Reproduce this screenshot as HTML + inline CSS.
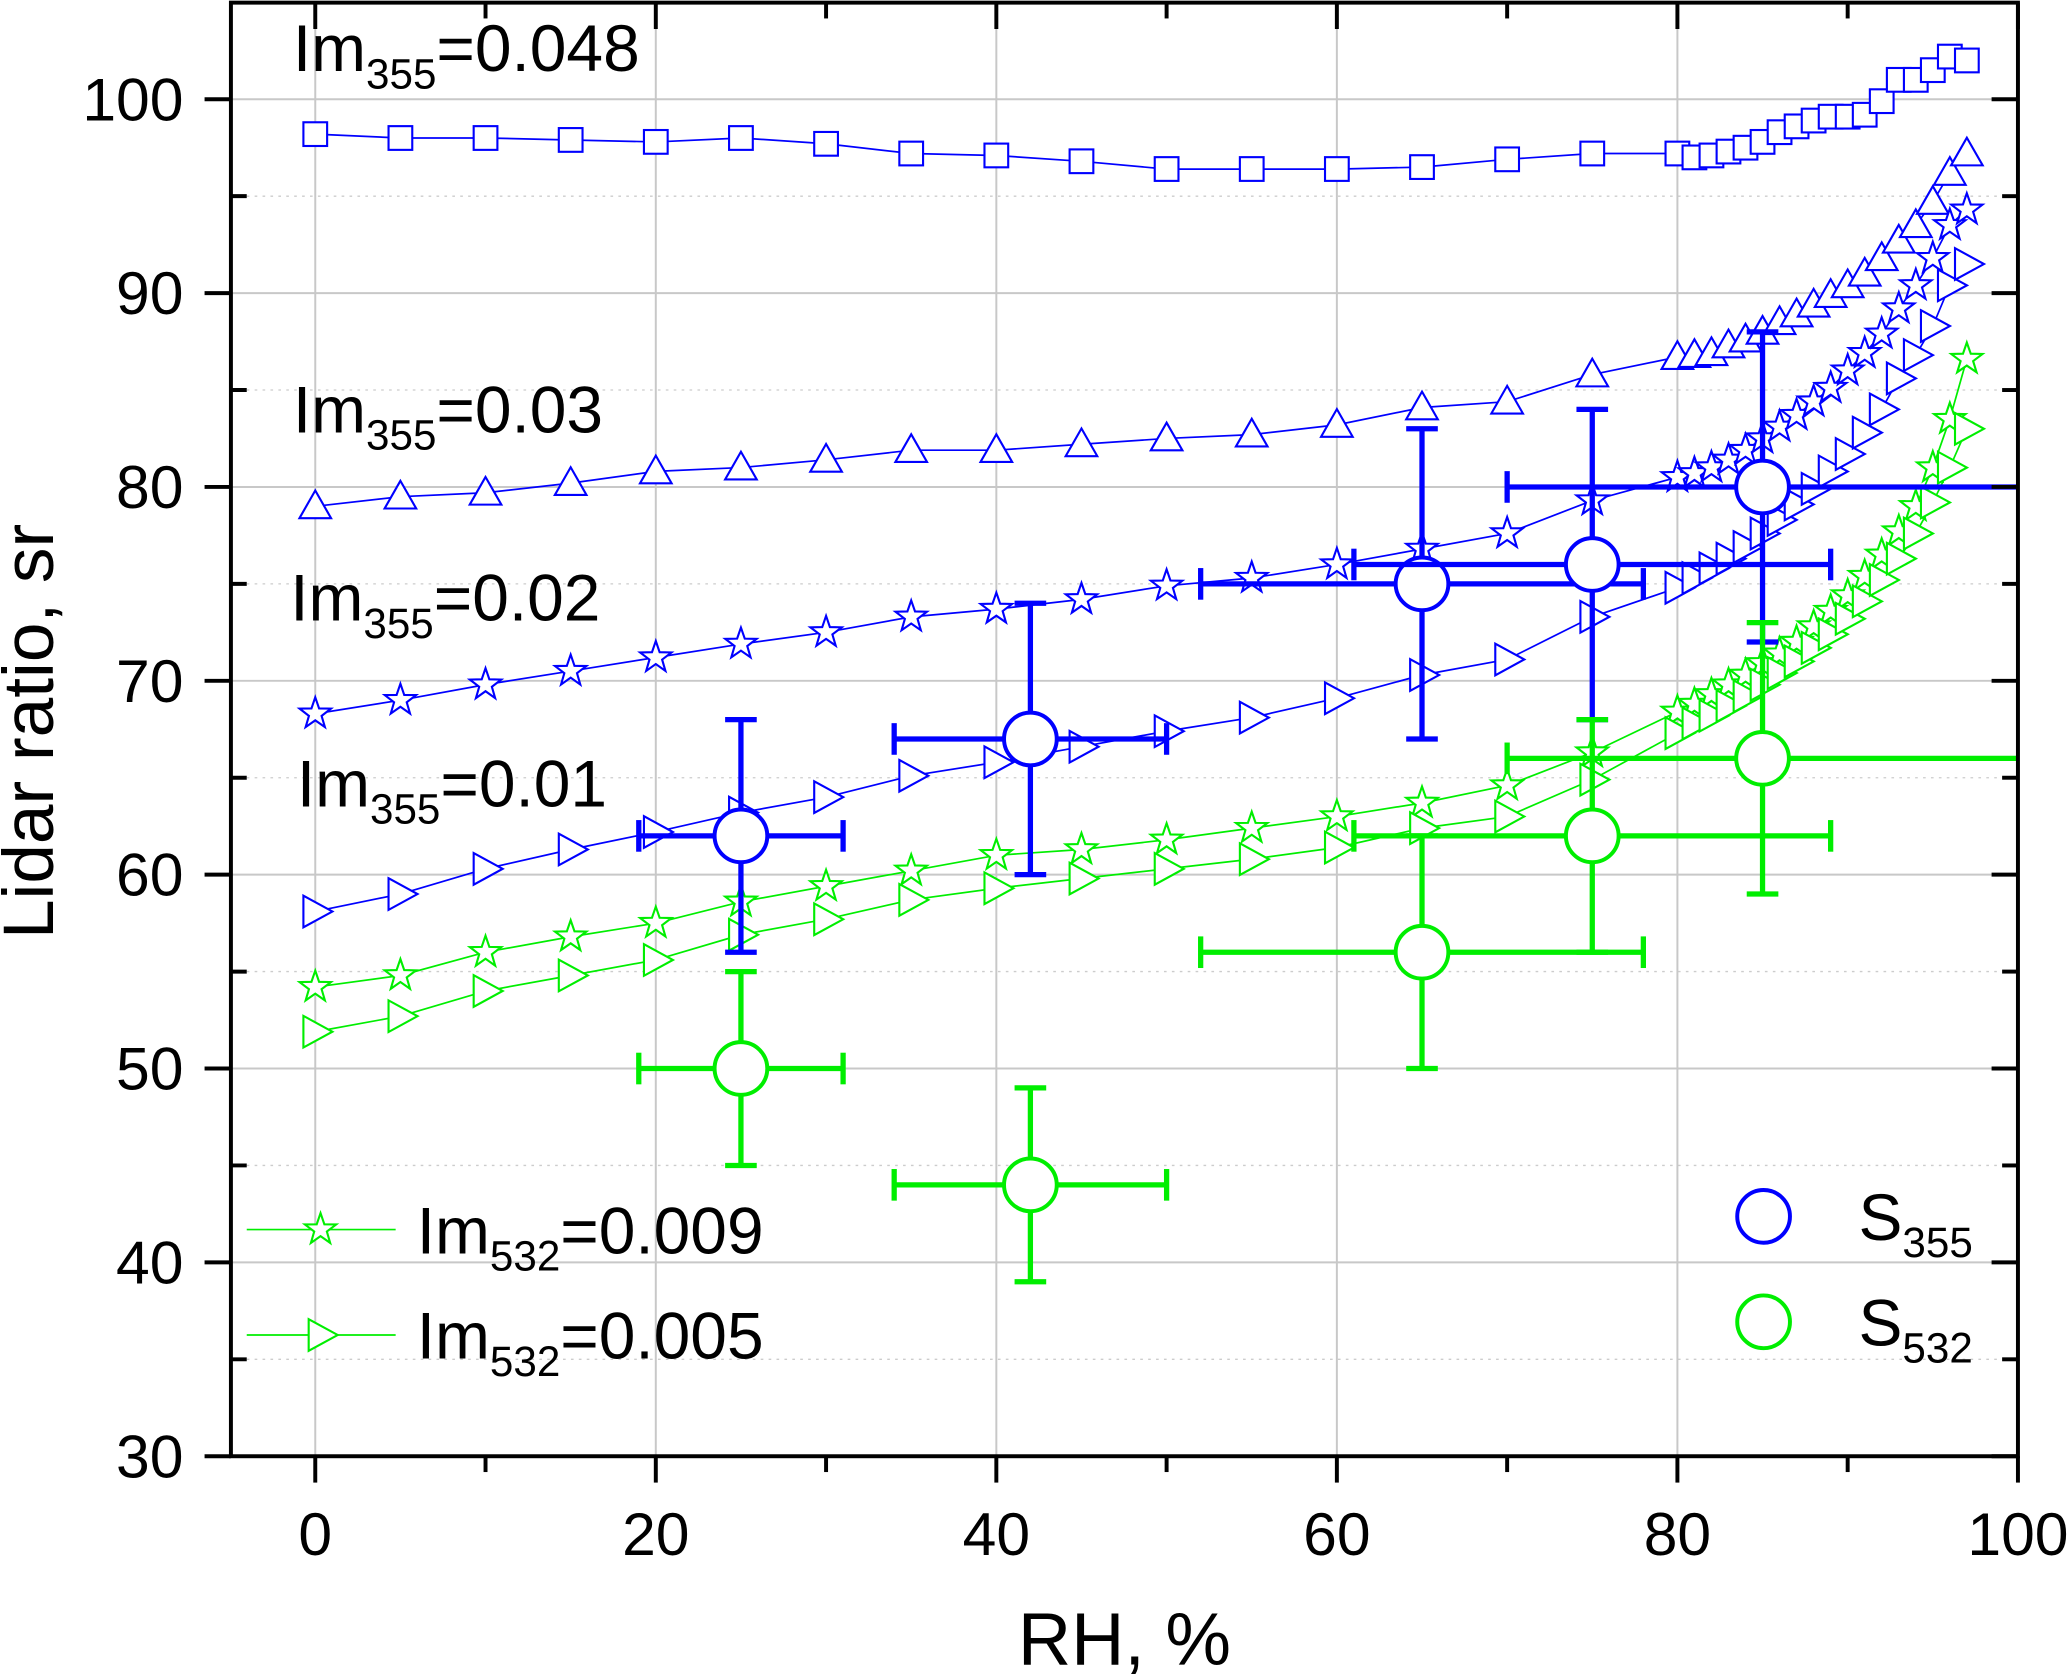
<!DOCTYPE html>
<html><head><meta charset="utf-8"><style>
html,body{margin:0;padding:0;background:#fff;}
svg{display:block;font-family:"Liberation Sans",Arial,sans-serif;}
</style></head><body>
<svg id="chart" width="2067" height="1675" viewBox="0 0 1568 1271" xmlns="http://www.w3.org/2000/svg">
<g id="grid"></g>
<g id="series"></g>
<g id="errs"></g>
<g id="axes"></g>
<g id="labels">
<text x="222" y="54" font-size="50">Im<tspan font-size="32" dy="13">355</tspan><tspan dy="-13">=0.048</tspan></text>
<text x="222" y="328" font-size="50">Im<tspan font-size="32" dy="13">355</tspan><tspan dy="-13">=0.03</tspan></text>
<text x="220" y="471" font-size="50">Im<tspan font-size="32" dy="13">355</tspan><tspan dy="-13">=0.02</tspan></text>
<text x="225" y="612" font-size="50">Im<tspan font-size="32" dy="13">355</tspan><tspan dy="-13">=0.01</tspan></text>
<text transform="translate(40,555) rotate(-90)" text-anchor="middle" font-size="54">Lidar ratio, sr</text>
<text x="853" y="1263" text-anchor="middle" font-size="56">RH, %</text>
</g>
<g id="legend"></g>
</svg>
<script>
const xs = [0,5,10,15,20,25,30,35,40,45,50,55,60,65,70,75,80,81,82,83,84,85,86,87,88,89,90,91,92,93,94,95,96,97];
const sq355 = [98.2,98.0,98.0,97.9,97.8,98.0,97.7,97.2,97.1,96.8,96.4,96.4,96.4,96.5,96.9,97.2,97.2,97.0,97.1,97.3,97.5,97.8,98.3,98.6,98.9,99.1,99.1,99.2,99.9,101.0,101.0,101.5,102.2,102.0];
const tri355 = [79,79.5,79.7,80.2,80.8,81.0,81.4,81.9,81.9,82.2,82.5,82.7,83.2,84.1,84.4,85.8,86.7,86.8,86.9,87.3,87.6,88.0,88.5,88.9,89.4,89.9,90.4,91.0,91.8,92.7,93.5,94.7,96.2,97.2];
const star355 = [68.3,69.0,69.8,70.5,71.2,71.9,72.5,73.3,73.7,74.2,74.9,75.3,76.0,76.8,77.6,79.3,80.5,80.7,81.0,81.4,81.9,82.5,83.1,83.7,84.4,85.1,86.0,86.9,87.9,89.2,90.4,91.8,93.5,94.3];
const rt355 = [58.1,59.0,60.3,61.3,62.2,63.2,64.0,65.1,65.8,66.6,67.4,68.1,69.1,70.3,71.1,73.3,74.8,75.3,75.8,76.3,76.9,77.6,78.3,79.1,79.9,80.8,81.7,82.8,84.0,85.6,86.8,88.3,90.4,91.5];
const star532 = [54.2,54.8,56.0,56.8,57.5,58.6,59.4,60.2,61.0,61.3,61.8,62.4,63.0,63.7,64.6,66.3,68.4,68.8,69.3,69.8,70.3,70.9,71.4,72.0,72.8,73.6,74.4,75.4,76.5,77.7,79.0,81.0,83.5,86.6];
const rt532 = [51.9,52.7,54.0,54.8,55.6,56.9,57.7,58.7,59.3,59.8,60.3,60.8,61.4,62.4,63.0,64.9,67.3,67.8,68.2,68.7,69.2,69.8,70.4,71.0,71.7,72.4,73.2,74.1,75.2,76.3,77.6,79.2,81.0,83.0];
const mRH = [25,42,65,75,85];
const mRHlo = [19,34,52,61,70];
const mRHhi = [31,50,78,89,100];
const s355 = [62,67,75,76,80];
const s355lo = [56,60,67,68,72];
const s355hi = [68,74,83,84,88];
const s532 = [50,44,56,62,66];
const s532lo = [45,39,50,56,59];
const s532hi = [55,49,62,68,73];
const xTicks = [0,20,40,60,80,100];
const yTicks = [30,40,50,60,70,80,90,100];

const NS = "http://www.w3.org/2000/svg";
const X = v => 239 + (v - 0) * 12.92;
const Y = v => 1105 - (v - 30) * 14.71;
const L = 175, R = 1531, T = 2, B = 1105;
const BLUE = "#0000ff", GREEN = "#00ee00";
function mk(tag, attrs, parent) { const e = document.createElementNS(NS, tag); for (const k in attrs) e.setAttribute(k, attrs[k]); parent.appendChild(e); return e; }
const grid = document.getElementById('grid'), axes = document.getElementById('axes'), ser = document.getElementById('series'), errs = document.getElementById('errs'), leg = document.getElementById('legend');

for (let v = 35; v < 100; v += 10) { const g = mk('line', {x1:L,x2:R,y1:Y(v),y2:Y(v),stroke:'#ccc','stroke-width':1,'stroke-dasharray':'2,4'}, grid);
  }
yTicks.forEach(v => { const g = mk('line', {x1:L,x2:R,y1:Y(v),y2:Y(v),stroke:'#c8c8c8','stroke-width':1.5}, grid);
  });
xTicks.forEach(v => { const g = mk('line', {x1:X(v),x2:X(v),y1:T,y2:B,stroke:'#c8c8c8','stroke-width':1.5}, grid);
  });

function marker(type, x, y, color, parent) {
  let e; const s = 9;
  if (type === 'sq') e = mk('rect', {x:x-s,y:y-s,width:2*s,height:2*s}, parent);
  else if (type === 'tri') e = mk('polygon', {points:`${x},${y-12} ${x-12},${y+9} ${x+12},${y+9}`}, parent);
  else if (type === 'rt') e = mk('polygon', {points:`${x-9},${y-12} ${x+13},${y} ${x-9},${y+12}`}, parent);
  else { let p = []; for (let i = 0; i < 10; i++) { const r = i % 2 ? 5 : 12.5, a = -Math.PI/2 + i*Math.PI/5; p.push((x + r*Math.cos(a)).toFixed(1) + ',' + (y + r*Math.sin(a)).toFixed(1)); } e = mk('polygon', {points:p.join(' ')}, parent); }
  e.setAttribute('fill', '#fff'); e.setAttribute('stroke', color); e.setAttribute('stroke-width', 1.6);
  return e;
}
function series(vals, type, color, name) {
  const g = mk('g', {}, ser);
  
  
  const pts = xs.map((x, i) => X(x).toFixed(1) + ',' + Y(vals[i]).toFixed(1)).join(' ');
  mk('polyline', {points:pts, fill:'none', stroke:color, 'stroke-width':1.3}, g);
  xs.forEach((x, i) => { const m = marker(type, X(x), Y(vals[i]), color, g);
      });
}
series(sq355, 'sq', BLUE, 'series-im355-0048');
series(tri355, 'tri', BLUE, 'series-im355-003');
series(star355, 'star', BLUE, 'series-im355-002');
series(rt355, 'rt', BLUE, 'series-im355-001');
series(star532, 'star', GREEN, 'series-im532-0009');
series(rt532, 'rt', GREEN, 'series-im532-0005');

function meas(vals, lo, hi, color, name) {
  mRH.forEach((rh, i) => {
    const g = mk('g', {stroke:color, 'stroke-width':4, fill:'none'}, errs);
    
    
    const cx = X(rh), cy = Y(vals[i]);
    mk('line', {x1:X(mRHlo[i]), x2:Math.min(X(mRHhi[i]), R), y1:cy, y2:cy}, g);
    mk('line', {x1:cx, x2:cx, y1:Y(lo[i]), y2:Y(hi[i])}, g);
    mk('line', {x1:cx-12, x2:cx+12, y1:Y(lo[i]), y2:Y(lo[i])}, g);
    mk('line', {x1:cx-12, x2:cx+12, y1:Y(hi[i]), y2:Y(hi[i])}, g);
    mk('line', {x1:X(mRHlo[i]), x2:X(mRHlo[i]), y1:cy-12, y2:cy+12}, g);
    if (X(mRHhi[i]) < R - 1) mk('line', {x1:X(mRHhi[i]), x2:X(mRHhi[i]), y1:cy-12, y2:cy+12}, g);
    mk('circle', {cx:cx, cy:cy, r:20, fill:'#fff', 'stroke-width':3}, g);
  });
}
meas(s355, s355lo, s355hi, BLUE, 's355');
meas(s532, s532lo, s532hi, GREEN, 's532');

const fr = mk('rect', {x:L, y:T, width:R-L, height:B-T, fill:'none', stroke:'#000', 'stroke-width':3}, axes);
 
for (let v = 0; v <= 100; v += 10) {
  const len = v % 20 === 0 ? 20 : 12;
  mk('line', {x1:X(v), x2:X(v), y1:B, y2:B+len, stroke:'#000', 'stroke-width':3}, axes);
  mk('line', {x1:X(v), x2:X(v), y1:T, y2:T+len, stroke:'#000', 'stroke-width':3}, axes);
}
for (let v = 30; v <= 100; v += 5) {
  const maj = v % 10 === 0;
  mk('line', {x1:L-(maj?20:0), x2:L+(maj?0:12), y1:Y(v), y2:Y(v), stroke:'#000', 'stroke-width':3}, axes);
  mk('line', {x1:R-(maj?20:12), x2:R, y1:Y(v), y2:Y(v), stroke:'#000', 'stroke-width':3}, axes);
}
xTicks.forEach(v => { const t = mk('text', {x:X(v), y:1180, 'text-anchor':'middle', 'font-size':46}, axes); t.textContent = v;
    });
yTicks.forEach(v => { const t = mk('text', {x:139, y:Y(v)+16, 'text-anchor':'end', 'font-size':46}, axes); t.textContent = v;
    });

function legLine(y, type, txt1, name) {
  const g = mk('g', {}, leg);
  
  
  mk('line', {x1:187, x2:300, y1:y, y2:y, stroke:GREEN, 'stroke-width':1.3}, g);
  marker(type, 243, y, GREEN, g);
  const t = mk('text', {x:316, y:y+18, 'font-size':50}, g);
  t.innerHTML = 'Im<tspan font-size="32" dy="13">532</tspan><tspan dy="-13">' + txt1 + '</tspan>';
}
legLine(933, 'star', '=0.009', 'legend-entry-im532-0009');
legLine(1013, 'rt', '=0.005', 'legend-entry-im532-0005');
function legCirc(y, color, sub, name) {
  const g = mk('g', {}, leg);
  
  
  mk('circle', {cx:1338, cy:y, r:20, fill:'#fff', stroke:color, 'stroke-width':3}, g);
  const t = mk('text', {x:1410, y:y+18, 'font-size':50}, g);
  t.innerHTML = 'S<tspan font-size="32" dy="13">' + sub + '</tspan>';
}
legCirc(923, BLUE, '355', 'legend-entry-s355');
legCirc(1003, GREEN, '532', 'legend-entry-s532');
</script>
</body></html>
